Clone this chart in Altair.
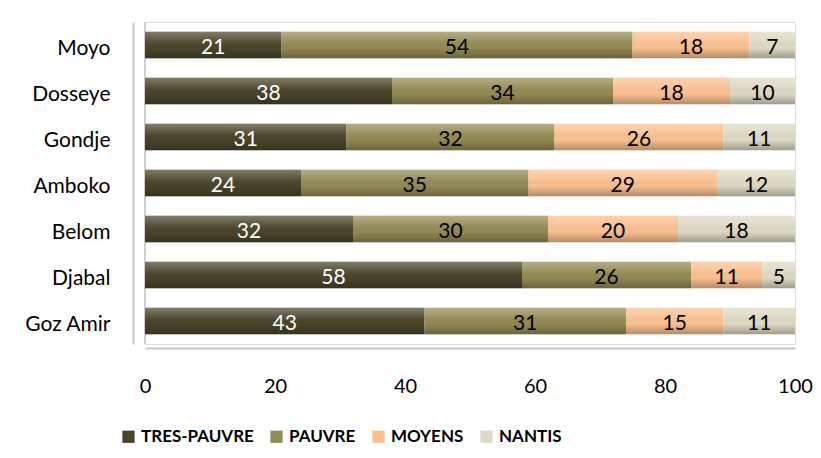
import altair as alt
import pandas as pd

categories = ["Moyo", "Dosseye", "Gondje", "Amboko", "Belom", "Djabal", "Goz Amir"]
series = ["TRES-PAUVRE", "PAUVRE", "MOYENS", "NANTIS"]
tres_pauvre = [21, 38, 31, 24, 32, 58, 43]
pauvre = [54, 34, 32, 35, 30, 26, 31]
moyens = [18, 18, 26, 29, 20, 11, 15]
nantis = [7, 10, 11, 12, 18, 5, 11]
colors = ["#4a452a", "#948a54", "#fac090", "#ddd9c3"]
x_ticks = [0, 20, 40, 60, 80, 100]

rows = []
for i, c in enumerate(categories):
    for j, vals in enumerate([tres_pauvre, pauvre, moyens, nantis]):
        rows.append({"site": c, "classe": series[j], "ordre": j, "valeur": vals[i]})
df = pd.DataFrame(rows)

FONT = "Lato"

base = alt.Chart(df).transform_stack(
    stack="valeur", groupby=["site"], sort=[alt.SortField("ordre")], as_=["x0", "x1"]
).transform_calculate(mid="(datum.x0 + datum.x1) / 2")

y_enc = alt.Y(
    "site:N",
    sort=categories,
    title=None,
    scale=alt.Scale(paddingInner=0.42, paddingOuter=0.21),
    axis=alt.Axis(
        ticks=False, domainColor="#c8c8c8", domainWidth=2, offset=12,
        labelPadding=23, labelFontSize=21, labelColor="#000000", labelFont=FONT,
        labelOffset=4,
    ),
)

x_enc = alt.X(
    "x0:Q",
    scale=alt.Scale(domain=[0, 100]),
    title=None,
    axis=alt.Axis(
        values=x_ticks, grid=False, ticks=False, domainColor="#c8c8c8",
        domainWidth=2, offset=4, labelPadding=28, labelFontSize=20,
        labelColor="#000000", labelFont=FONT, labelFlush=False,
    ),
)

bars = base.mark_bar().encode(
    y=y_enc,
    x=x_enc,
    x2="x1:Q",
    color=alt.Color(
        "classe:N",
        scale=alt.Scale(domain=series, range=colors),
        legend=alt.Legend(
            title=None, orient="none", legendX=-25, legendY=406,
            direction="horizontal", symbolType="square", symbolSize=150,
            symbolStrokeWidth=0, labelFontSize=17, labelFontWeight="bold",
            labelFont=FONT, labelColor="#000000", columnPadding=14, labelOffset=4,
        ),
    ),
    order=alt.Order("ordre:Q"),
)

shade = base.mark_bar(
    color=alt.Gradient(
        gradient="linear",
        x1=0, x2=0, y1=0, y2=1,
        stops=[
            alt.GradientStop(color="rgba(255,255,255,0.30)", offset=0),
            alt.GradientStop(color="rgba(255,255,255,0.08)", offset=0.35),
            alt.GradientStop(color="rgba(0,0,0,0.0)", offset=0.6),
            alt.GradientStop(color="rgba(0,0,0,0.28)", offset=1),
        ],
    )
).encode(
    y=alt.Y("site:N", sort=categories),
    x=alt.X("x0:Q"),
    x2="x1:Q",
)

labels = base.mark_text(fontSize=21, font=FONT, dy=3).encode(
    y=alt.Y("site:N", sort=categories),
    x=alt.X("mid:Q"),
    text=alt.Text("valeur:Q"),
    color=alt.condition(
        alt.datum.classe == "TRES-PAUVRE", alt.value("#ffffff"), alt.value("#000000")
    ),
)

wall = alt.Chart(pd.DataFrame({"x": [0]})).mark_rule(color="#d0d0d0", strokeWidth=2).encode(
    x=alt.X("x:Q")
)

chart = alt.layer(wall, bars, shade, labels).properties(
    width=650,
    height=322,
    autosize=alt.AutoSizeParams(type="none"),
    padding={"left": 137, "top": 14, "right": 18, "bottom": 106},
).configure_view(stroke=None).configure(background="#ffffff")

chart.save("out.html", embed_options={"renderer": "svg", "actions": False})
